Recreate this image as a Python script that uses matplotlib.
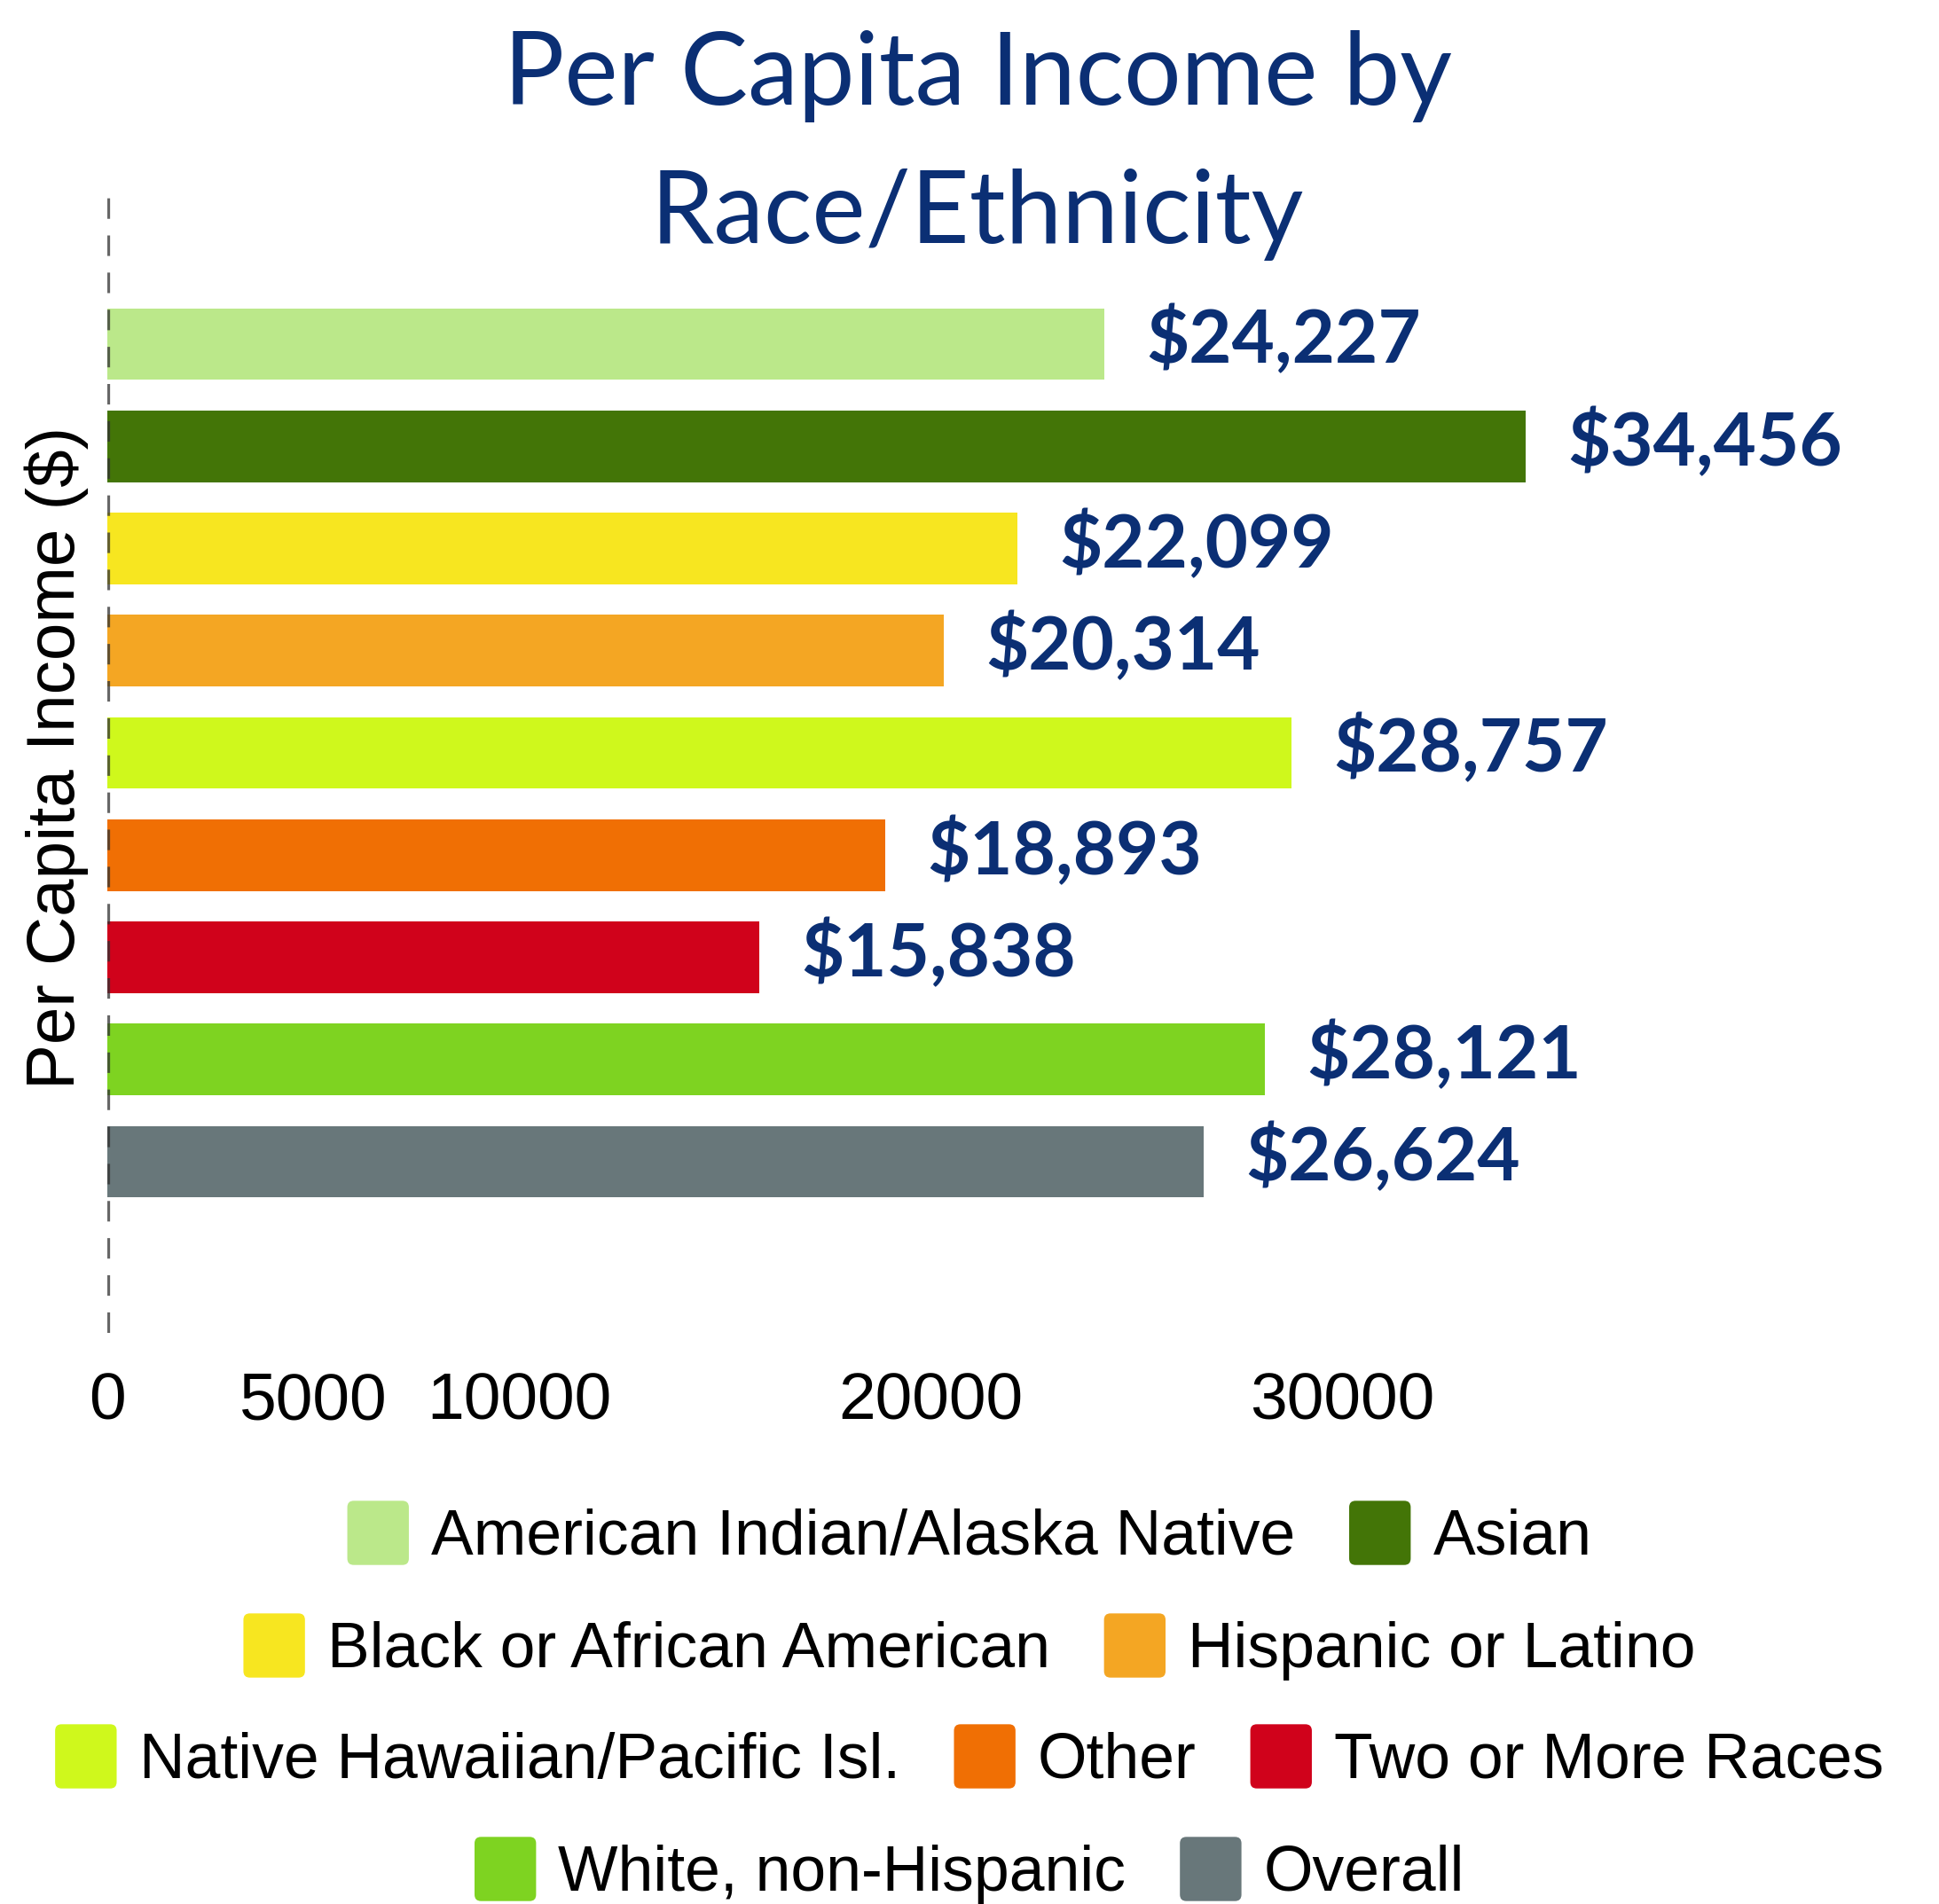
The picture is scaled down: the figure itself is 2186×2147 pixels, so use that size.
import matplotlib
matplotlib.use("Agg")
import matplotlib.pyplot as plt
from matplotlib.patches import FancyBboxPatch, Rectangle
from matplotlib.legend_handler import HandlerPatch

# data
groups = [
    "American Indian/Alaska Native",
    "Asian",
    "Black or African American",
    "Hispanic or Latino",
    "Native Hawaiian/Pacific Isl.",
    "Other",
    "Two or More Races",
    "White, non-Hispanic",
    "Overall",
]
income = [24227, 34456, 22099, 20314, 28757, 18893, 15838, 28121, 26624]
colors = ["#bbe88a", "#437507", "#f7e620", "#f4a623", "#cff81c",
          "#f06f04", "#d0021b", "#7ed321", "#68777a"]
xticks = [0, 5000, 10000, 20000, 30000]
legend_rows = [[0, 1], [2, 3], [4, 5, 6], [7, 8]]

NAVY = "#0b2f74"
W, H = 2186, 2147

fig = plt.figure(figsize=(W / 100, H / 100), dpi=100)
ax = fig.add_axes([121 / W, (H - 1503) / H, 2042 / W, (1503 - 217) / H])

pos = list(range(len(groups)))
bars = ax.barh(pos, income, height=0.70, color=colors, zorder=2)
ax.set_ylim(9.675, -1.484)
ax.set_xlim(0, 44000)

ax.axvline(0, color="#333333", alpha=0.75, lw=4.5, dashes=(3.7, 3.0), zorder=3)

for i, v in enumerate(income):
    ax.annotate(f"${v:,}", xy=(v, i), xytext=(34, 3), textcoords="offset points",
                ha="left", va="center", fontsize=60, fontweight="bold",
                family="Lato", color=NAVY)

for s in ax.spines.values():
    s.set_visible(False)
ax.set_yticks([])
ax.set_xticks(xticks)
ax.set_xticklabels([str(t) for t in xticks], family="Liberation Sans", fontsize=54)
ax.tick_params(axis="x", length=0, pad=31)

fig.text(64 / W, (H - 854) / H, "Per Capita Income ($)", rotation=90,
         ha="center", va="center", family="Liberation Sans", fontsize=55)

# two-line title
fig.text(1102 / W, (H - 86) / H, "Per Capita Income by", ha="center", va="center",
         family="Lato", fontsize=82, color=NAVY)
fig.text(1102 / W, (H - 242) / H, "Race/Ethnicity", ha="center", va="center",
         family="Lato", fontsize=82, color=NAVY)


def rounded(legend, orig_handle, xdescent, ydescent, width, height, fontsize):
    return FancyBboxPatch((-xdescent, -ydescent), width, height,
                          boxstyle=f"round,pad=0,rounding_size={0.1 * height}")


row_y = [1730, 1857, 1982, 2109]
for row, y in zip(legend_rows, row_y):
    fig.legend([bars[k] for k in row], [groups[k] for k in row],
               loc="center", bbox_to_anchor=(0.5, (H - y) / H), ncol=len(row),
               frameon=False, prop={"family": "Liberation Sans", "size": 51.5},
               handlelength=0.97, handleheight=1.18, handletextpad=0.35,
               columnspacing=0.85, borderpad=0, borderaxespad=0,
               handler_map={Rectangle: HandlerPatch(patch_func=rounded)})

fig.savefig("out.png", dpi=100)
